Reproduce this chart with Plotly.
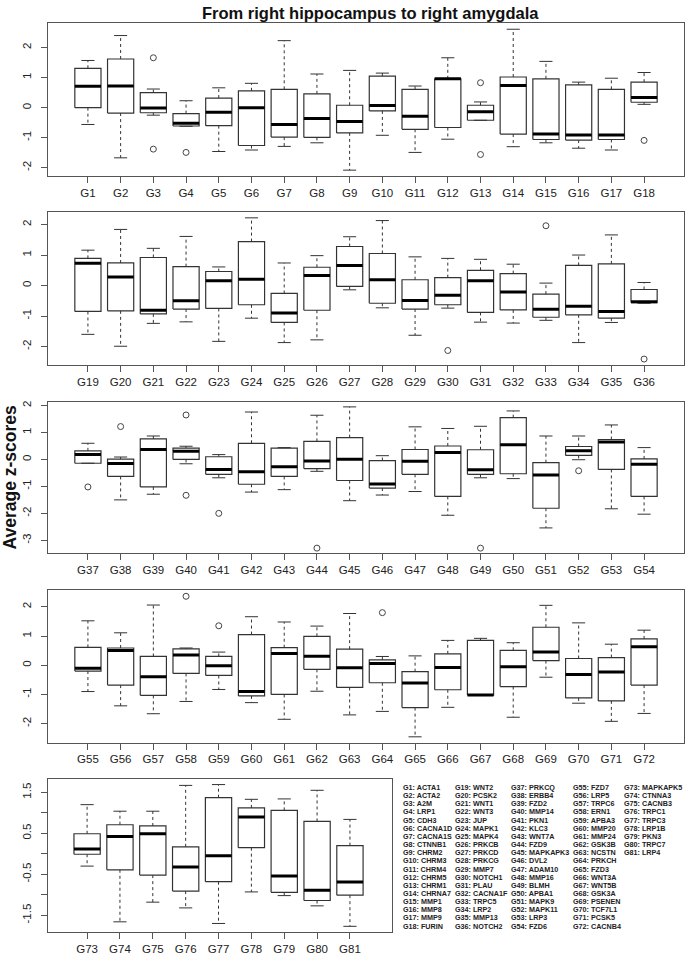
import plotly.graph_objects as go

# ---------------- data ----------------
gene_ids = ["G1", "G2", "G3", "G4", "G5", "G6", "G7", "G8", "G9", "G10", "G11", "G12",
            "G13", "G14", "G15", "G16", "G17", "G18", "G19", "G20", "G21", "G22", "G23",
            "G24", "G25", "G26", "G27", "G28", "G29", "G30", "G31", "G32", "G33", "G34",
            "G35", "G36", "G37", "G38", "G39", "G40", "G41", "G42", "G43", "G44", "G45",
            "G46", "G47", "G48", "G49", "G50", "G51", "G52", "G53", "G54", "G55", "G56",
            "G57", "G58", "G59", "G60", "G61", "G62", "G63", "G64", "G65", "G66", "G67",
            "G68", "G69", "G70", "G71", "G72", "G73", "G74", "G75", "G76", "G77", "G78",
            "G79", "G80", "G81"]

gene_symbols = ["ACTA1", "ACTA2", "A2M", "LRP1", "CDH3", "CACNA1D", "CACNA1S", "CTNNB1",
                "CHRM2", "CHRM3", "CHRM4", "CHRM5", "CHRM1", "CHRNA7", "MMP1", "MMP8",
                "MMP9", "FURIN", "WNT2", "PCSK2", "WNT1", "WNT3", "JUP", "MAPK1", "MAPK4",
                "PRKCB", "PRKCD", "PRKCG", "MMP7", "NOTCH1", "PLAU", "CACNA1F", "TRPC5",
                "LRP2", "MMP13", "NOTCH2", "PRKCQ", "ERBB4", "FZD2", "MMP14", "PKN1", "KLC3",
                "WNT7A", "FZD9", "MAPKAPK3", "DVL2", "ADAM10", "MMP16", "BLMH", "APBA1",
                "MAPK9", "MAPK11", "LRP3", "FZD6", "FZD7", "LRP5", "TRPC6", "ERN1", "APBA3",
                "MMP20", "MMP24", "GSK3B", "NCSTN", "PRKCH", "FZD3", "WNT3A", "WNT5B",
                "GSK3A", "PSENEN", "TCF7L1", "PCSK5", "CACNB4", "MAPKAPK5", "CTNNA3",
                "CACNB3", "TRPC1", "TRPC3", "LRP1B", "PKN3", "TRPC7", "LRP4"]

whisker_low = [-0.56, -1.67, -0.25, -0.62, -1.46, -1.41, -1.29, -1.17, -2.08, -0.92, -1.49, -1.05,
               -0.42, -1.30, -1.17, -1.35, -1.41, 0.11,
               -1.60, -1.99, -1.24, -1.19, -1.83, -1.07, -1.87, -1.78, -0.14, -0.73, -1.63, -0.74,
               -1.20, -1.23, -1.14, -1.87, -1.21, -0.58,
               -0.14, -1.50, -1.29, -0.16, -0.68, -1.21, -1.12, -0.44, -1.53, -1.32, -1.19, -2.07,
               -0.68, -0.71, -2.54, -0.01, -1.83, -2.03,
               -0.90, -1.39, -1.66, -1.24, -0.83, -1.28, -1.85, -0.89, -1.70, -1.58, -2.45, -1.44,
               -1.02, -1.78, -0.41, -1.30, -1.92, -1.65,
               -0.30, -1.66, -1.18, -1.32, -1.70, -0.93, -1.02, -1.27, -1.77]

quartile_1 = [0.00, -0.18, -0.17, -0.61, -0.60, -1.26, -0.98, -0.99, -0.84, -0.11, -0.72, -0.66,
              -0.42, -0.88, -1.06, -1.08, -1.06, 0.18,
              -0.85, -0.83, -0.93, -0.77, -0.75, -0.63, -1.21, -0.81, -0.03, -0.58, -0.77, -0.63,
              -0.88, -0.80, -1.04, -0.96, -1.07, -0.56,
              -0.14, -0.63, -1.02, 0.00, -0.55, -0.92, -0.63, -0.34, -0.78, -1.06, -0.55, -1.37,
              -0.55, -0.53, -1.81, 0.15, -0.37, -1.37,
              -0.20, -0.68, -1.03, -0.28, -0.35, -1.05, -1.00, -0.14, -0.76, -0.60, -1.45, -0.84,
              -1.02, -0.73, 0.16, -1.12, -1.22, -0.68,
              -0.01, -0.39, -0.52, -0.91, -0.68, 0.15, -0.94, -1.14, -1.01]

medians = [0.71, 0.72, -0.01, -0.52, -0.15, 0.00, -0.56, -0.36, -0.46, 0.07, -0.29, 0.96,
           -0.14, 0.74, -0.88, -0.91, -0.91, 0.34,
           0.73, 0.28, -0.81, -0.50, 0.16, 0.21, -0.90, 0.33, 0.66, 0.19, -0.49, -0.32,
           0.16, -0.21, -0.78, -0.68, -0.85, -0.53,
           0.18, -0.15, 0.37, 0.30, -0.37, -0.46, -0.27, -0.06, 0.01, -0.91, -0.07, 0.26,
           -0.38, 0.55, -0.58, 0.32, 0.65, -0.18,
           -0.10, 0.50, -0.39, 0.35, -0.02, -0.90, 0.40, 0.31, -0.09, 0.06, -0.61, -0.08,
           -1.02, -0.05, 0.45, -0.32, -0.23, 0.63,
           0.12, 0.42, 0.49, -0.32, -0.05, 0.90, -0.54, -0.89, -0.69]

quartile_3 = [1.31, 1.62, 0.50, -0.20, 0.32, 0.56, 0.61, 0.46, 0.08, 1.05, 0.61, 0.96,
              0.08, 1.02, 0.96, 0.76, 0.61, 0.85,
              0.89, 0.74, 0.92, 0.62, 0.46, 1.44, -0.26, 0.60, 1.28, 1.05, 0.19, 0.26,
              0.50, 0.39, -0.28, 0.66, 0.71, -0.13,
              0.32, 0.01, 0.76, 0.42, 0.10, 0.60, 0.42, 0.67, 0.81, -0.04, 0.37, 0.50,
              0.36, 1.55, -0.12, 0.48, 0.74, 0.02,
              0.61, 0.59, 0.30, 0.56, 0.30, 1.05, 0.60, 0.99, 0.55, 0.18, -0.22, 0.39,
              0.85, 0.51, 1.30, 0.23, 0.26, 0.90,
              0.49, 0.71, 0.68, 0.17, 1.37, 1.12, 1.06, 0.79, 0.20]

whisker_high = [1.57, 2.40, 0.62, 0.23, 0.66, 0.81, 2.23, 1.12, 1.24, 1.15, 0.72, 1.66,
                0.19, 2.61, 1.54, 0.85, 0.98, 1.17,
                1.16, 1.84, 1.22, 1.61, 0.61, 2.22, 0.74, 0.98, 1.60, 2.13, 0.94, 0.89,
                0.86, 0.70, 0.08, 1.00, 1.66, 0.10,
                0.60, 0.09, 0.87, 0.49, 0.18, 1.76, 0.44, 1.64, 1.95, 0.14, 1.21, 1.15,
                1.23, 1.80, 0.87, 0.87, 1.28, 0.44,
                1.52, 1.11, 2.06, 0.59, 0.45, 1.66, 1.48, 1.34, 1.77, 0.30, 0.32, 0.85,
                0.92, 0.77, 2.05, 1.45, 0.72, 1.20,
                1.20, 1.04, 1.04, 1.67, 1.69, 1.33, 1.34, 1.55, 0.84]

outlier_gene = ["G3", "G3", "G4", "G13", "G13", "G18", "G30", "G33", "G36", "G37", "G38",
                "G40", "G40", "G41", "G44", "G49", "G52", "G58", "G59", "G64"]
outlier_value = [1.66, -1.38, -1.49, 0.83, -1.56, -1.09, -2.13, 1.96, -2.41, -1.02, 1.22,
                 1.65, -1.33, -2.00, -3.29, -3.29, -0.42, 2.36, 1.35, 1.80]

title_text = "From right hippocampus to right amygdala"
y_title_text = "Average z-scores"

# ---------------- layout geometry ----------------
FIG_W, FIG_H = 685, 955
panel_sizes = [18, 18, 18, 18, 9]
panel_px = [(48, 684, 22, 176), (48, 684, 211.7, 365), (48, 684, 402.3, 554),
            (48, 684, 591, 744), (48, 392, 780.7, 934)]
panel_xrange = [[-0.22, 19.22]] * 4 + [[-0.19, 10.28]]
panel_yrange = [[-2.29, 2.82], [-2.6, 2.41], [-3.48, 2.13], [-2.65, 2.57], [-1.91, 1.82]]
panel_yticks = [[-2, -1, 0, 1, 2], [-2, -1, 0, 1, 2], [-3, -2, -1, 0, 1, 2],
                [-2, -1, 0, 1, 2], [-1.5, -1, -0.5, 0, 0.5, 1, 1.5]]
panel_yticktext = [["-2", "-1", "0", "1", "2"], ["-2", "-1", "0", "1", "2"],
                   ["-3", "-2", "-1", "0", "1", "2"], ["-2", "-1", "0", "1", "2"],
                   ["-1.5", "", "-0.5", "", "0.5", "", "1.5"]]

FONT = "Liberation Sans, Arial, Helvetica, sans-serif"
BOX_HALF = 0.4
CAP_HALF = 0.2
BOX_COLOR = "#333333"
FRAME_COLOR = "#555555"

fig = go.Figure()
layout_axes = {}

start = 0
for p, n in enumerate(panel_sizes):
    ids = gene_ids[start:start + n]
    lo = whisker_low[start:start + n]
    q1 = quartile_1[start:start + n]
    md = medians[start:start + n]
    q3 = quartile_3[start:start + n]
    hi = whisker_high[start:start + n]
    xs = list(range(1, n + 1))
    pos = dict(zip(ids, xs))
    ax = "" if p == 0 else str(p + 1)
    xref, yref = "x" + ax, "y" + ax

    bx, by, mx, my, wx, wy, cx, cy = [], [], [], [], [], [], [], []
    for x, a, b, c, d, e in zip(xs, lo, q1, md, q3, hi):
        bx += [x - BOX_HALF, x + BOX_HALF, x + BOX_HALF, x - BOX_HALF, x - BOX_HALF, None]
        by += [b, b, d, d, b, None]
        mx += [x - BOX_HALF, x + BOX_HALF, None]
        my += [c, c, None]
        wx += [x, x, None, x, x, None]
        wy += [d, e, None, b, a, None]
        cx += [x - CAP_HALF, x + CAP_HALF, None, x - CAP_HALF, x + CAP_HALF, None]
        cy += [e, e, None, a, a, None]

    fig.add_trace(go.Scatter(x=wx, y=wy, mode="lines", xaxis=xref, yaxis=yref,
                             line=dict(color=BOX_COLOR, width=1, dash="3px,3px"),
                             hoverinfo="skip", showlegend=False))
    fig.add_trace(go.Scatter(x=cx, y=cy, mode="lines", xaxis=xref, yaxis=yref,
                             line=dict(color=BOX_COLOR, width=1),
                             hoverinfo="skip", showlegend=False))
    fig.add_trace(go.Scatter(x=bx, y=by, mode="lines", xaxis=xref, yaxis=yref,
                             line=dict(color=BOX_COLOR, width=1.2),
                             hoverinfo="skip", showlegend=False))
    fig.add_trace(go.Scatter(x=mx, y=my, mode="lines", xaxis=xref, yaxis=yref,
                             line=dict(color="#000000", width=3),
                             hoverinfo="skip", showlegend=False))
    ox = [pos[g] for g in outlier_gene if g in pos]
    oy = [v for g, v in zip(outlier_gene, outlier_value) if g in pos]
    if ox:
        fig.add_trace(go.Scatter(x=ox, y=oy, mode="markers", xaxis=xref, yaxis=yref,
                                 marker=dict(symbol="circle-open", size=6, color="#444444",
                                             line=dict(width=1)),
                                 hoverinfo="skip", showlegend=False))

    l, r, t, b_ = panel_px[p]
    layout_axes["xaxis" + ax] = dict(
        domain=[l / FIG_W, r / FIG_W], anchor=yref, range=panel_xrange[p],
        tickvals=xs, ticktext=ids, ticks="outside", ticklen=6, tickcolor=FRAME_COLOR,
        showline=True, mirror=True, linecolor=FRAME_COLOR, linewidth=1,
        showgrid=False, zeroline=False, fixedrange=True,
        tickfont=dict(family=FONT, size=11.5, color="#222222"))
    layout_axes["yaxis" + ax] = dict(
        domain=[1 - b_ / FIG_H, 1 - t / FIG_H], anchor=xref, range=panel_yrange[p],
        tickvals=panel_yticks[p], ticktext=panel_yticktext[p], tickangle=-90,
        ticks="outside", ticklen=6, tickcolor=FRAME_COLOR, ticklabelstandoff=5,
        showline=True, mirror=True, linecolor=FRAME_COLOR, linewidth=1,
        showgrid=False, zeroline=False, fixedrange=True,
        tickfont=dict(family=FONT, size=11.5, color="#222222"))
    start += n

annotations = [
    dict(text="<b>" + title_text + "</b>", x=370 / FIG_W, y=1 - 12 / FIG_H,
         xref="paper", yref="paper", xanchor="center", yanchor="middle", showarrow=False,
         font=dict(family=FONT, size=16.5, color="#111111")),
    dict(text="<b>" + y_title_text + "</b>", x=10 / FIG_W, y=1 - 478 / FIG_H,
         xref="paper", yref="paper", xanchor="center", yanchor="middle", showarrow=False,
         textangle=-90, font=dict(family=FONT, size=17.5, color="#111111")),
]

# gene key, 5 columns of up to 18 rows
col_x = [401, 453, 509, 571, 622]
row_y0, row_step = 789, 8.18
for i, (gid, sym) in enumerate(zip(gene_ids, gene_symbols)):
    col, row = divmod(i, 18)
    annotations.append(dict(
        text="<b>%s: %s</b>" % (gid, sym), x=col_x[col] / FIG_W,
        y=1 - (row_y0 + row * row_step) / FIG_H, xref="paper", yref="paper",
        xanchor="left", yanchor="middle", showarrow=False,
        font=dict(family=FONT, size=7.2, color="#222222")))

fig.update_layout(
    width=FIG_W, height=FIG_H, margin=dict(l=0, r=0, t=0, b=0),
    paper_bgcolor="white", plot_bgcolor="white", showlegend=False,
    annotations=annotations, **layout_axes)

fig.write_html("out.html", config={"displayModeBar": False},
               post_script="document.body.style.margin='0';document.body.style.overflow='hidden';")
